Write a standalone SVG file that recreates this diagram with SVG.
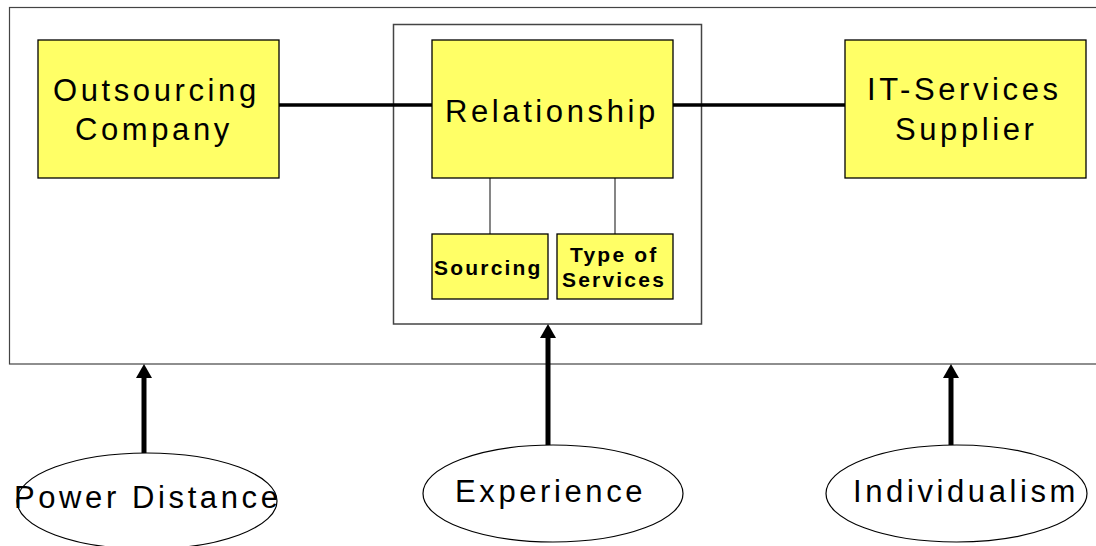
<svg xmlns="http://www.w3.org/2000/svg" width="1096" height="546" viewBox="0 0 1096 546">
<style>
.box{fill:#FFFF66;stroke:#000;stroke-width:1.3}
.big{font-family:"Liberation Sans",Arial,sans-serif;font-size:31px;letter-spacing:3.6px;fill:#000}
.small{font-family:"Liberation Sans",Arial,sans-serif;font-size:21px;font-weight:bold;letter-spacing:2.2px;fill:#000}
.ell{fill:#fff;stroke:#000;stroke-width:1.2}
.thick{stroke:#000;stroke-width:3.5;fill:none}
.thin{stroke:#444;stroke-width:1.3;fill:none}
.arrow{stroke:#000;stroke-width:5;fill:none}
.head{fill:#000}
</style>
<rect width="1096" height="546" fill="#fff"/>
<g id="context">
<rect x="9.5" y="7.5" width="1100" height="356.5" fill="#fff" stroke="#444" stroke-width="1.2"/>
</g>
<g id="relationship-container">
<rect x="393.5" y="24.5" width="308" height="299.5" fill="#fff" stroke="#444" stroke-width="1.5"/>
</g>
<g id="connectors">
<line class="thick" x1="279" y1="105" x2="432" y2="105"/>
<line class="thick" x1="673" y1="105" x2="845" y2="105"/>
<line class="thin" x1="490" y1="178" x2="490" y2="234"/>
<line class="thin" x1="615" y1="178" x2="615" y2="234"/>
<line class="arrow" x1="144" y1="453" x2="144" y2="374"/>
<polygon class="head" points="136,378 152,378 144,364"/>
<line class="arrow" x1="548" y1="445" x2="548" y2="334"/>
<polygon class="head" points="540,338 556,338 548,324"/>
<line class="arrow" x1="951" y1="445" x2="951" y2="374"/>
<polygon class="head" points="943,378 959,378 951,364"/>
</g>
<g id="outsourcing-company">
<rect class="box" x="38" y="40" width="241" height="138"/>
<text class="big" x="53" y="101">Outsourcing</text>
<text class="big" x="75" y="140">Company</text>
</g>
<g id="relationship">
<rect class="box" x="432" y="40" width="241" height="138"/>
<text class="big" x="445" y="122">Relationship</text>
</g>
<g id="it-services-supplier">
<rect class="box" x="845" y="40" width="241" height="138"/>
<text class="big" x="867" y="100">IT-Services</text>
<text class="big" x="895" y="140">Supplier</text>
</g>
<g id="sourcing">
<rect class="box" x="432" y="234" width="116" height="65"/>
<text class="small" x="434" y="275">Sourcing</text>
</g>
<g id="type-of-services">
<rect class="box" x="557" y="234" width="116" height="65"/>
<text class="small" x="570" y="262">Type of</text>
<text class="small" x="562" y="287">Services</text>
</g>
<g id="power-distance">
<ellipse class="ell" cx="147" cy="501" rx="130" ry="48"/>
<text class="big" x="14" y="508">Power Distance</text>
</g>
<g id="experience">
<ellipse class="ell" cx="553" cy="493.5" rx="130" ry="48.5"/>
<text class="big" x="455" y="502">Experience</text>
</g>
<g id="individualism">
<ellipse class="ell" cx="956.5" cy="493.5" rx="130.5" ry="48.5"/>
<text class="big" x="853" y="502">Individualism</text>
</g>
</svg>
